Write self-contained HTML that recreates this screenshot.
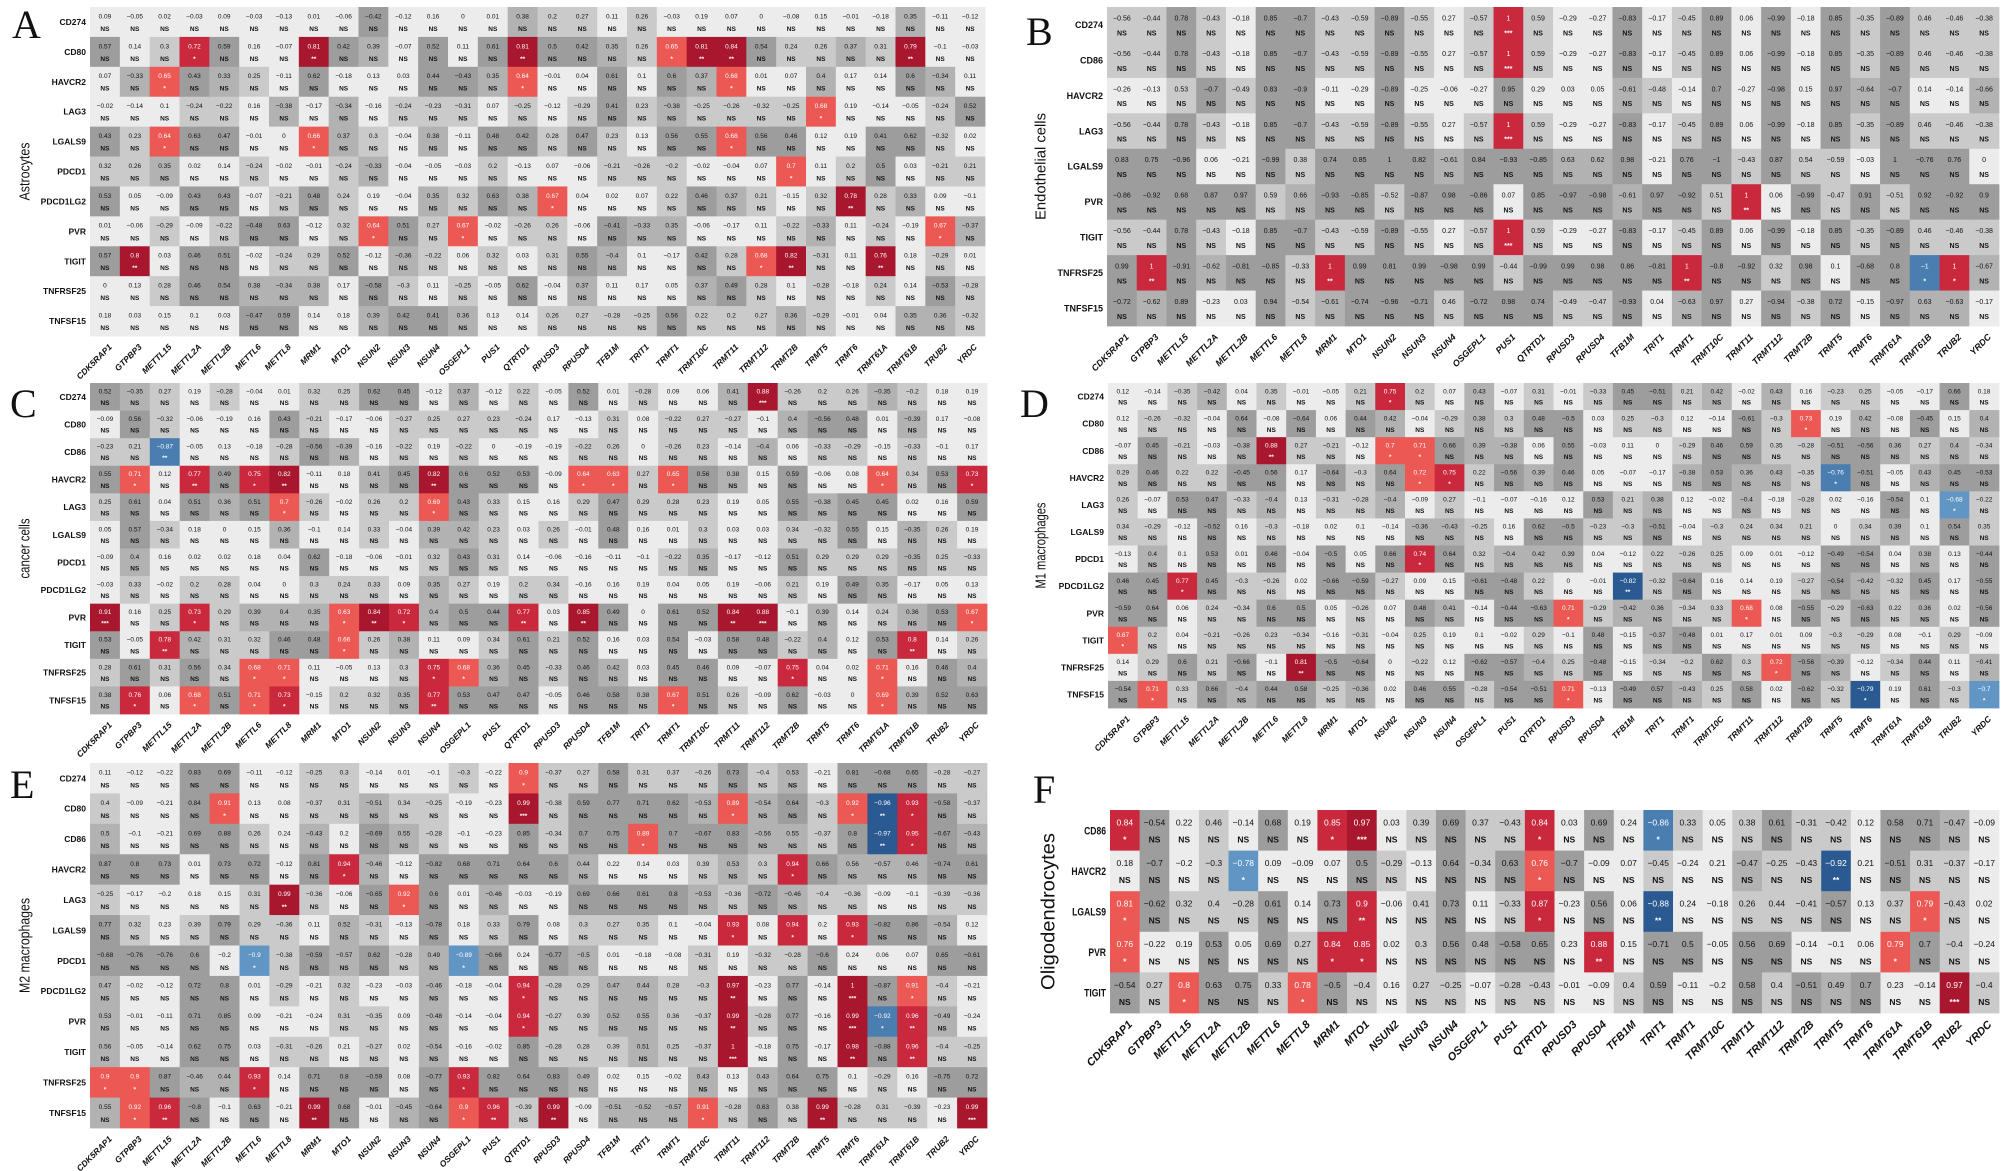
<!DOCTYPE html>
<html><head><meta charset="utf-8">
<style>
html,body{margin:0;padding:0;background:#fff;}
svg{display:block;}
</style></head>
<body>
<svg id="s" width="2007" height="1171" xmlns="http://www.w3.org/2000/svg"></svg>
<script>
const cols=["CDK5RAP1","GTPBP3","METTL15","METTL2A","METTL2B","METTL6","METTL8","MRM1","MTO1","NSUN2","NSUN3","NSUN4","OSGEPL1","PUS1","QTRTD1","RPUSD3","RPUSD4","TFB1M","TRIT1","TRMT1","TRMT10C","TRMT11","TRMT112","TRMT2B","TRMT5","TRMT6","TRMT61A","TRMT61B","TRUB2","YRDC"];
const R12=["CD274","CD80","CD86","HAVCR2","LAG3","LGALS9","PDCD1","PDCD1LG2","PVR","TIGIT","TNFRSF25","TNFSF15"];
const Bsame="-0.56 -0.44 0.78 -0.43 -0.18 0.85 -0.7 -0.43 -0.59 -0.89 -0.55 0.27 -0.57 1N 0.59 -0.29 -0.27 -0.83 -0.17 -0.45 0.89 0.06 -0.99 -0.18 0.85 -0.35 -0.89 0.46 -0.46 -0.38";
const panels=[
{L:"A",x:90,y:7,w:895,h:329,lx:12,ly:38,title:"Astrocytes",tx:24,tl:58,th:[0.2,0.33,0.41],fs:6.5,rfs:8.5,cfs:8.5,
rows:["CD274","CD80","HAVCR2","LAG3","LGALS9","PDCD1","PDCD1LG2","PVR","TIGIT","TNFRSF25","TNFSF15"],
d:[
"0.09 -0.05 0.02 -0.03 0.09 -0.03 -0.13 0.01 -0.06 -0.42 -0.12 0.16 0 0.01 0.38 0.2 0.27 0.11 0.26 -0.03 0.19 0.07 0 -0.08 0.15 -0.01 -0.18 0.35 -0.11 -0.12",
"0.57 0.14 0.3 0.72m 0.59 0.16 -0.07 0.81h 0.42 0.39 -0.07 0.52 0.11 0.61 0.81h 0.5 0.42 0.35 0.26 0.65l 0.81h 0.84h 0.54 0.24 0.26 0.37 0.31 0.79h -0.1 -0.03",
"0.07 -0.33 0.65l 0.43 0.33 0.25 -0.11 0.62 -0.18 0.13 0.03 0.44 -0.43 0.35 0.64l -0.01 0.04 0.61 0.1 0.6 0.37 0.68l 0.01 0.07 0.4 0.17 0.14 0.6 -0.34 0.11",
"-0.02 -0.14 0.1 -0.24 -0.22 0.16 -0.38 -0.17 -0.34 -0.16 -0.24 -0.23 -0.31 0.07 -0.25 -0.12 -0.29 0.41 0.23 -0.38 -0.25 -0.26 -0.32 -0.25 0.68l 0.19 -0.14 -0.05 -0.24 0.52",
"0.43 0.23 0.64l 0.63 0.47 -0.01 0 0.66l 0.37 0.3 -0.04 0.38 -0.11 0.48 0.42 0.28 0.47 0.23 0.13 0.56 0.55 0.68l 0.56 0.46 0.12 0.19 0.41 0.62 -0.32 0.02",
"0.32 0.26 0.35 0.02 0.14 -0.24 -0.02 -0.01 -0.24 -0.33 -0.04 -0.05 -0.03 0.2 -0.13 0.07 -0.06 -0.21 -0.26 -0.2 -0.02 -0.04 0.07 0.7l 0.11 0.2 0.5 0.03 -0.21 0.21",
"0.53 0.05 -0.09 0.43 0.43 -0.07 -0.21 0.48 0.24 0.19 -0.04 0.35 0.32 0.63 0.38 0.67l 0.04 0.02 0.07 0.22 0.46 0.37 0.21 -0.15 0.32 0.78h 0.28 0.33 0.09 -0.1",
"0.01 -0.06 -0.29 -0.09 -0.22 -0.48 0.63 -0.12 0.32 0.64l 0.51 0.27 0.67l -0.02 -0.26 0.26 -0.06 -0.41 -0.33 0.35 -0.06 -0.17 0.11 -0.22 -0.33 0.11 -0.24 -0.19 0.67l -0.37",
"0.57 0.8h 0.03 0.46 0.51 -0.02 -0.24 0.29 0.52 -0.12 -0.36 -0.22 0.06 0.32 0.03 0.31 0.55 -0.4 0.1 -0.17 0.42 0.28 0.68l 0.82h -0.31 0.11 0.76h 0.18 -0.29 0.01",
"0 0.13 0.28 0.46 0.54 0.38 -0.34 0.38 0.17 -0.58 -0.3 0.11 -0.25 -0.05 0.62 -0.04 0.37 0.11 0.17 0.05 0.37 0.49 0.28 0.1 -0.28 -0.18 0.24 0.14 -0.53 -0.28",
"0.18 0.03 0.15 0.1 0.03 -0.47 0.59 0.14 0.18 0.39 0.42 0.41 0.36 0.13 0.14 0.26 0.27 -0.28 -0.25 0.56 0.22 0.2 0.27 0.36 -0.29 -0.01 0.04 0.35 0.36 -0.32"]},
{L:"B",x:1107,y:7,w:892,h:319,lx:1026,ly:45,title:"Endothelial cells",tx:1040,tl:107,th:[0.3,0.6,0.68],fs:7,rfs:9,cfs:9,
rows:["CD274","CD86","HAVCR2","LAG3","LGALS9","PVR","TIGIT","TNFRSF25","TNFSF15"],
d:[Bsame,Bsame,
"-0.26 -0.13 0.53 -0.7 -0.49 0.83 -0.9 -0.11 -0.29 -0.89 -0.25 -0.06 -0.27 0.95 0.29 0.03 0.05 -0.61 -0.48 -0.14 0.7 -0.27 -0.98 0.15 0.97 -0.64 -0.7 0.14 -0.14 -0.66",
Bsame,
"0.83 0.75 -0.96 0.06 -0.21 -0.99 0.38 0.74 0.85 1 0.82 -0.61 0.84 -0.93 -0.85 0.63 0.62 0.98 -0.21 0.76 -1 -0.43 0.87 0.54 -0.59 -0.03 1 -0.76 0.76 0",
"-0.86 -0.92 0.68 0.87 0.97 0.59 0.66 -0.93 -0.85 -0.52 -0.87 0.98 -0.86 0.07 0.85 -0.97 -0.98 -0.61 0.97 -0.92 0.51 1M 0.06 -0.99 -0.47 0.91 -0.51 0.92 -0.92 0.9",
Bsame,
"0.99 1M -0.91 -0.62 -0.81 -0.85 -0.33 1M 0.99 0.81 0.99 -0.98 0.99 -0.44 -0.99 0.99 0.98 0.86 -0.81 1M -0.8 -0.92 0.32 0.98 0.1 -0.68 0.8 -1v 1m -0.67",
"-0.72 -0.62 0.89 -0.23 0.03 0.94 -0.54 -0.61 -0.74 -0.96 -0.71 0.46 -0.72 0.98 0.74 -0.49 -0.47 -0.93 0.04 -0.63 0.97 0.27 -0.94 -0.38 0.72 -0.15 -0.97 0.63 -0.63 -0.17"]},
{L:"C",x:90,y:383,w:897,h:331,lx:10,ly:417,title:"cancer cells",tx:24,tl:60,th:[0.2,0.35,0.43],fs:6.5,rfs:8.5,cfs:8.5,rows:R12,
d:[
"0.52 -0.35 0.27 0.19 -0.28 -0.04 0.01 0.32 0.25 0.62 0.45 -0.12 0.37 -0.12 0.22 -0.05 0.52 0.01 -0.28 0.09 0.06 0.41 0.88H -0.26 0.2 0.26 -0.35 -0.2 0.18 0.19",
"-0.09 0.56 -0.32 -0.06 -0.19 0.16 0.43 -0.21 -0.17 -0.06 -0.27 0.25 0.27 0.23 -0.24 0.17 -0.13 0.31 0.08 -0.22 0.27 -0.27 -0.1 0.4 -0.56 0.48 0.01 -0.39 0.17 -0.08",
"-0.23 0.21 -0.87W -0.05 0.13 -0.18 -0.28 -0.56 -0.39 -0.16 -0.22 0.19 -0.22 0 -0.19 -0.19 -0.22 0.26 0 -0.26 0.23 -0.14 -0.4 0.06 -0.33 -0.29 -0.15 -0.33 -0.1 0.17",
"0.55 0.71l 0.12 0.77M 0.49 0.75m 0.82h -0.11 0.18 0.41 0.45 0.82h 0.6 0.52 0.53 -0.09 0.64l 0.63l 0.27 0.65l 0.56 0.38 0.15 0.59 -0.06 0.08 0.64l 0.34 0.53 0.73m",
"0.25 0.61 0.04 0.51 0.36 0.51 0.7l -0.26 -0.02 0.26 0.2 0.69l 0.43 0.33 0.15 0.16 0.29 0.47 0.29 0.28 0.23 0.19 0.05 0.55 -0.38 0.45 0.45 0.02 0.16 0.59",
"0.05 0.57 -0.34 0.18 0 0.15 0.36 -0.1 0.14 0.33 -0.04 0.39 0.42 0.23 0.03 0.26 -0.01 0.48 0.16 0.01 0.3 0.03 0.03 0.34 -0.32 0.55 0.15 -0.35 0.26 0.19",
"-0.09 0.4 0.16 0.02 0.02 0.18 0.04 0.62 -0.18 -0.06 -0.01 0.32 0.43 0.31 0.14 -0.06 -0.16 -0.11 -0.1 -0.22 0.35 -0.17 -0.12 0.51 0.29 0.29 0.29 -0.35 0.25 -0.33",
"-0.03 0.33 -0.02 0.2 0.28 0.04 0 0.3 0.24 0.33 0.09 0.35 0.27 0.19 0.2 0.34 -0.16 0.16 0.19 0.04 0.05 0.19 -0.06 0.21 0.19 0.49 0.35 -0.17 0.05 0.13",
"0.91H 0.16 0.25 0.73m 0.29 0.39 0.4 0.35 0.63l 0.84h 0.72m 0.4 0.5 0.44 0.77M 0.03 0.85h 0.49 0 0.61 0.52 0.84h 0.88H -0.1 0.39 0.14 0.24 0.36 0.53 0.67l",
"0.53 -0.05 0.78M 0.42 0.31 0.32 0.46 0.48 0.66l 0.26 0.38 0.11 0.09 0.34 0.61 0.21 0.52 0.16 0.03 0.54 -0.03 0.58 0.48 -0.22 0.4 0.12 0.53 0.8M 0.14 0.26",
"0.28 0.61 0.31 0.56 0.34 0.68l 0.71l 0.11 -0.05 0.13 0.3 0.75m 0.68l 0.36 0.45 -0.33 0.46 0.42 0.03 0.45 0.46 0.09 -0.07 0.75m 0.04 0.02 0.71l 0.16 0.46 0.4",
"0.38 0.76m 0.06 0.68l 0.51 0.71l 0.73m -0.15 0.2 0.32 0.35 0.77M 0.53 0.47 0.47 -0.05 0.46 0.58 0.38 0.67l 0.51 0.26 -0.09 0.62 -0.03 0 0.69l 0.39 0.52 0.63"]},
{L:"D",x:1108,y:383,w:891,h:325,lx:1020,ly:417,title:"M1 macrophages",tx:1040,tl:86,th:[0.2,0.36,0.44],fs:6.5,rfs:8.5,cfs:8.5,rows:R12,
d:[
"0.12 -0.14 -0.35 -0.42 0.04 0.35 -0.01 -0.05 0.21 0.75m 0.2 0.07 0.43 -0.07 0.31 -0.01 -0.33 0.45 -0.51 0.21 0.42 -0.02 0.43 0.16 -0.23 0.25 -0.05 -0.17 0.66 0.18",
"0.12 -0.26 -0.32 -0.04 0.64 -0.08 -0.64 0.06 0.44 0.42 -0.04 -0.29 0.38 0.3 0.48 -0.5 0.03 0.25 -0.3 0.12 -0.14 -0.61 -0.3 0.73l 0.19 0.42 -0.08 -0.45 0.15 0.4",
"-0.07 0.45 -0.21 -0.03 -0.38 0.88h 0.27 -0.21 -0.12 0.7l 0.71l 0.66 0.39 -0.38 0.06 0.55 -0.03 0.11 0 -0.29 0.46 0.59 0.35 -0.28 -0.51 -0.56 0.36 0.27 0.4 -0.34",
"0.29 0.46 0.22 0.22 -0.45 0.56 0.17 -0.64 -0.3 0.64 0.72l 0.75m 0.22 -0.56 0.39 0.46 0.05 -0.07 -0.17 -0.38 0.53 0.36 0.43 -0.35 -0.76v -0.51 -0.05 0.43 0.45 -0.53",
"0.26 -0.07 0.53 0.47 -0.33 -0.4 0.13 -0.31 -0.28 -0.4 -0.09 0.27 -0.1 -0.07 -0.16 0.12 0.53 0.21 0.38 0.12 -0.02 -0.4 -0.18 -0.28 0.02 -0.16 -0.54 0.1 -0.68u -0.22",
"0.34 -0.29 -0.12 -0.52 0.16 -0.3 -0.18 0.02 0.1 -0.14 -0.36 -0.43 -0.25 0.16 0.62 -0.5 -0.23 -0.3 -0.51 -0.04 -0.3 0.24 0.34 0.21 0 0.34 0.39 0.1 0.54 0.35",
"-0.13 0.4 0.1 0.53 0.01 0.46 -0.04 -0.5 0.05 0.66 0.74m 0.64 0.32 -0.4 0.42 0.39 0.04 -0.12 0.22 -0.26 0.25 0.09 0.01 -0.12 -0.49 -0.54 0.04 0.38 0.13 -0.44",
"0.46 0.45 0.77m 0.45 -0.3 -0.26 0.02 -0.66 -0.59 -0.27 0.09 0.15 -0.61 -0.48 0.22 0 -0.01 -0.82U -0.32 -0.64 0.16 0.14 0.19 -0.27 -0.54 -0.42 -0.32 0.45 0.17 -0.55",
"-0.59 0.64 0.06 0.24 -0.34 0.6 0.5 0.05 -0.26 0.07 0.48 0.41 -0.14 -0.44 -0.63 0.71l -0.29 -0.42 0.36 -0.34 0.33 0.68l 0.08 -0.55 -0.29 -0.63 0.22 0.36 0.02 -0.56",
"0.67l 0.2 0.04 -0.21 -0.26 0.23 -0.34 -0.16 -0.31 -0.04 0.25 0.19 0.1 -0.02 0.29 -0.1 0.48 -0.15 -0.37 -0.48 0.01 0.17 0.01 0.09 -0.3 -0.29 0.08 -0.1 0.29 -0.09",
"0.14 0.29 0.6 0.21 -0.66 -0.1 0.81h -0.5 -0.64 0 -0.22 0.12 -0.62 -0.57 -0.4 0.25 -0.48 -0.15 -0.34 -0.2 0.62 0.3 0.72l -0.56 -0.39 -0.12 -0.34 0.44 0.11 -0.41",
"-0.54 0.71l 0.33 0.66 -0.4 0.44 0.58 -0.25 -0.36 0.02 0.46 0.55 -0.28 -0.54 -0.51 0.71l -0.13 -0.49 0.57 -0.43 0.25 0.58 0.02 -0.62 -0.32 -0.79V 0.19 0.61 -0.3 -0.7u"]},
{L:"E",x:90,y:763,w:897,h:365,lx:10,ly:798,title:"M2 macrophages",tx:24,tl:95,th:[0.25,0.42,0.58],fs:6.5,rfs:8.5,cfs:8.5,rows:R12,
d:[
"0.11 -0.12 -0.22 0.83 0.69 -0.11 -0.12 -0.25 0.3 -0.14 0.01 -0.1 -0.3 -0.22 0.9l -0.37 0.27 0.58 0.31 0.37 -0.26 0.73 -0.4 0.53 -0.21 0.81 -0.68 0.65 -0.28 -0.27",
"0.4 -0.09 -0.21 0.84 0.91l 0.13 0.08 -0.37 0.31 -0.51 0.34 -0.25 -0.19 -0.23 0.99H -0.38 0.59 0.77 0.71 0.62 -0.53 0.89l -0.54 0.64 -0.3 0.92l -0.96U 0.93m -0.58 -0.37",
"0.5 -0.1 -0.21 0.69 0.88 0.26 0.24 -0.43 0.2 -0.69 0.55 -0.28 -0.1 -0.23 0.85 -0.34 0.7 0.75 0.89l 0.7 -0.67 0.83 -0.56 0.55 -0.37 0.8 -0.97U 0.95m -0.67 -0.43",
"0.87 0.8 0.73 0.01 0.73 0.72 -0.12 0.81 0.94m -0.46 -0.12 -0.82 0.68 0.71 0.64 0.6 0.44 0.22 0.14 0.03 0.39 0.53 0.3 0.94m 0.66 0.56 -0.57 0.46 -0.74 0.61",
"-0.25 -0.17 -0.2 0.18 0.15 0.31 0.99h -0.36 -0.06 -0.65 0.92l 0.6 0.01 -0.46 -0.03 -0.19 0.69 0.66 0.61 0.8 -0.53 -0.36 -0.72 -0.46 -0.4 -0.36 -0.09 -0.1 -0.39 -0.36",
"0.77 0.32 0.23 0.39 0.79 0.29 -0.36 0.11 0.52 -0.31 -0.13 -0.78 0.18 0.33 0.79 0.08 0.3 0.27 0.35 0.1 -0.04 0.93m 0.08 0.94m 0.2 0.93m -0.82 0.86 -0.54 0.12",
"-0.68 -0.76 -0.76 0.6 -0.2 -0.9u -0.38 -0.59 -0.57 0.62 -0.28 0.49 -0.89u -0.66 0.24 -0.77 -0.5 0.01 -0.18 -0.08 -0.31 0.19 -0.32 -0.28 -0.6 0.24 0.06 0.07 0.65 -0.61",
"0.47 -0.02 -0.12 0.72 0.8 0.01 -0.29 -0.21 0.32 -0.23 -0.03 -0.46 -0.18 -0.04 0.94m -0.28 0.29 0.47 0.44 0.28 -0.3 0.97h -0.23 0.77 -0.14 1H -0.87 0.91l -0.4 -0.21",
"0.53 -0.01 -0.11 0.71 0.85 0.09 -0.21 -0.24 0.31 -0.35 0.09 -0.48 -0.14 -0.04 0.94m -0.27 0.39 0.52 0.55 0.36 -0.37 0.99h -0.28 0.77 -0.16 0.99H -0.92v 0.96M -0.49 -0.24",
"0.56 -0.05 -0.14 0.62 0.75 0.03 -0.31 -0.26 0.21 -0.27 0.02 -0.54 -0.16 -0.02 0.85 -0.28 0.28 0.39 0.51 0.25 -0.37 1H -0.18 0.75 -0.17 0.98h -0.88 0.96M -0.4 -0.25",
"0.9l 0.9l 0.87 -0.46 0.44 0.93m 0.14 0.71 0.8 -0.59 0.08 -0.77 0.93m 0.82 0.64 0.83 0.49 0.02 0.15 -0.02 0.43 0.13 0.43 0.64 0.75 0.1 -0.29 0.16 -0.75 0.72",
"0.55 0.92l 0.96M -0.8 -0.1 0.63 -0.21 0.99h 0.68 -0.01 -0.45 -0.64 0.9l 0.96M -0.39 0.99h -0.09 -0.51 -0.52 -0.57 0.91l -0.28 0.63 0.38 0.99h -0.28 0.31 -0.39 -0.23 0.99H"]},
{L:"F",x:1110,y:810,w:889,h:203,lx:1033,ly:803,title:"Oligodendrocytes",tx:1048,tl:157,th:[0.25,0.47,0.5],fs:8.5,rfs:11,cfs:11,tfs:19,rsx:0.78,
rows:["CD86","HAVCR2","LGALS9","PVR","TIGIT"],
d:[
"0.84m -0.54 0.22 0.46 -0.14 0.68 0.19 0.85m 0.97H 0.03 0.39 0.69 0.37 -0.43 0.84m 0.03 0.69 0.24 -0.86v 0.33 0.05 0.38 0.61 -0.31 -0.42 0.12 0.58 0.71 -0.47 -0.09",
"0.18 -0.7 -0.2 -0.3 -0.78u 0.09 -0.09 0.07 0.5 -0.29 -0.13 0.64 -0.34 0.63 0.76l -0.7 -0.09 0.07 -0.45 -0.24 0.21 -0.47 -0.25 -0.43 -0.92U 0.21 -0.51 0.31 -0.37 -0.17",
"0.81l -0.62 0.32 0.4 -0.28 0.61 0.14 0.73 0.9M -0.06 0.41 0.73 0.11 -0.33 0.87m -0.23 0.56 0.06 -0.88U 0.24 -0.18 0.26 0.44 -0.41 -0.57 0.13 0.37 0.79l -0.43 0.02",
"0.76l -0.22 0.19 0.53 0.05 0.69 0.27 0.84m 0.85m 0.02 0.3 0.56 0.48 -0.58 0.65 0.23 0.88M 0.15 -0.71 0.5 -0.05 0.56 0.69 -0.14 -0.1 0.06 0.79l 0.7 -0.4 -0.24",
"-0.54 0.27 0.8l 0.63 0.75 0.33 0.78l -0.5 -0.4 0.16 0.27 -0.25 -0.07 -0.28 -0.43 -0.01 -0.09 0.4 0.59 -0.11 -0.2 0.58 0.4 -0.51 0.49 0.7 0.23 -0.14 0.97H -0.4"]}
];
const GR=["#ececec","#cacaca","#b2b2b2","#9d9d9d"];
const CODE={l:["#ec5853","*"],m:["#c9283d","*"],M:["#c9283d","**"],N:["#c9283d","***"],h:["#a8172e","**"],H:["#a8172e","***"],
u:["#6195c4","*"],v:["#4a7db0","*"],W:["#4a7db0","**"],U:["#2b5a92","**"],V:["#2b5a92","*"]};
let o=[];
for(const p of panels){
  const nr=p.rows.length, cw=p.w/30, rh=p.h/nr;
  for(let r=0;r<nr;r++){
    const toks=p.d[r].trim().split(/\s+/);
    for(let c=0;c<30;c++){
      const t=toks[c]||"0";
      const m=t.match(/^(-?[0-9.]+)([A-Za-z]?)$/);
      const v=m?m[1]:"0", code=m?m[2]:"";
      const a=Math.abs(parseFloat(v));
      let fill,star="NS",tc="#111";
      if(code&&CODE[code]){fill=CODE[code][0];star=CODE[code][1];tc="#fff";}
      else{const lv=a<p.th[0]?0:a<p.th[1]?1:a<p.th[2]?2:3;fill=GR[lv];}
      const x=p.x+c*cw,y=p.y+r*rh;
      o.push(`<rect x="${x.toFixed(2)}" y="${y.toFixed(2)}" width="${(cw+0.4).toFixed(2)}" height="${(rh+0.4).toFixed(2)}" fill="${fill}"/>`);
      const cx=x+cw/2;
      o.push(`<text x="${cx.toFixed(1)}" y="${(y+rh*0.38).toFixed(1)}" font-size="${p.fs}" fill="${tc}" text-anchor="middle">${v.replace("-","\u2212")}</text>`);
      o.push(`<text x="${cx.toFixed(1)}" y="${(y+rh*0.80).toFixed(1)}" font-size="${p.fs}" fill="${tc}" text-anchor="middle" font-weight="bold">${star}</text>`);
    }
    const sx=p.rsx||1;
    o.push(`<text transform="translate(${p.x-4},${(p.y+r*rh+rh/2+p.rfs*0.36).toFixed(1)}) scale(${sx},1)" font-size="${p.rfs}" font-weight="bold" fill="#111" text-anchor="end">${p.rows[r]}</text>`);
  }
  for(let c=0;c<30;c++){
    const cx=p.x+(c+0.5)*cw+3, cy=p.y+p.h+7;
    o.push(`<text transform="translate(${cx.toFixed(1)},${cy.toFixed(1)}) rotate(-45)" font-size="${p.cfs}" font-weight="bold" font-style="italic" fill="#111" text-anchor="end" dominant-baseline="hanging">${cols[c]}</text>`);
  }
  o.push(`<text x="${p.lx}" y="${p.ly}" font-family="Liberation Serif, serif" font-size="40" fill="#111">${p.L}</text>`);
  const tfs=p.tfs||15, ty=p.y+p.h/2;
  o.push(`<text transform="translate(${p.tx+tfs*0.35},${ty}) rotate(-90)" font-size="${tfs}" fill="#111" text-anchor="middle" textLength="${p.tl}" lengthAdjust="spacingAndGlyphs">${p.title}</text>`);
}
const s=document.getElementById("s");
s.setAttribute("font-family","Liberation Sans, Arial, sans-serif");
s.innerHTML=`<rect width="2007" height="1171" fill="#fff"/>`+o.join("");
</script>
</body></html>
